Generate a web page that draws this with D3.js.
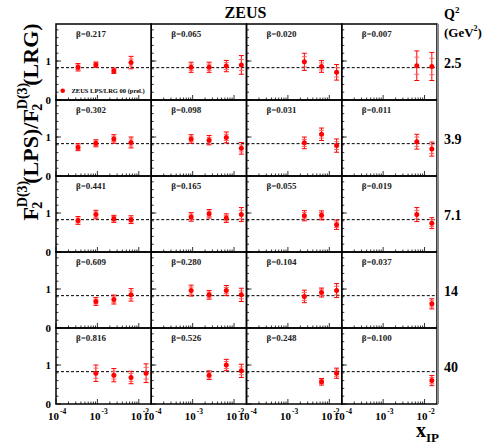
<!DOCTYPE html>
<html>
<head>
<meta charset="utf-8">
<script src="https://cdn.jsdelivr.net/npm/d3@7"></script>
<style>
  body { margin: 0; background: #fff; }
  text { font-family: "Liberation Serif", "Times New Roman", serif; font-weight: bold; }
</style>
</head>
<body>
<script>
// values
const q2Labels = ["2.5", "3.9", "7.1", "14", "40"];
const betaLabels = [
  ["0.217", "0.065", "0.020", "0.007"],
  ["0.302", "0.098", "0.031", "0.011"],
  ["0.441", "0.165", "0.055", "0.019"],
  ["0.609", "0.280", "0.104", "0.037"],
  ["0.816", "0.526", "0.248", "0.100"]
];
const xipBins = [0.00034, 0.00092, 0.0025, 0.0065, 0.015];
const xTicks = [1e-4, 1e-3, 1e-2];
const xTickExp = ["-4", "-3", "-2"];
const yTicks = [0, 1];
const meanRatio = 0.83;

const ratio = [
  [[0.84, 0.905, 0.75, 0.96, null], [null, 0.84, 0.84, 0.87, 0.90], [null, null, 0.98, 0.86, 0.71], [null, null, null, 0.88, 0.86]],
  [[0.74, 0.84, 0.95, 0.86, null], [null, 0.95, 0.92, 0.99, 0.71], [null, null, 0.85, 1.07, 0.78], [null, null, null, 0.88, 0.69]],
  [[0.81, 0.96, 0.85, 0.83, null], [null, 0.90, 0.98, 0.87, 0.96], [null, null, 0.93, 0.94, 0.70], [null, null, null, 0.96, 0.74]],
  [[null, 0.68, 0.73, 0.85, null], [null, 0.96, 0.85, 0.96, 0.85], [null, null, 0.81, 0.91, 0.96], [null, null, null, null, 0.62]],
  [[null, 0.79, 0.74, 0.68, 0.79], [null, null, 0.74, 1.00, 0.85], [null, null, null, 0.57, 0.79], [null, null, null, null, 0.60]]
];
const totErr = [
  [[0.095, 0.07, 0.07, 0.16, null], [null, 0.13, 0.13, 0.145, 0.24], [null, null, 0.22, 0.15, 0.20], [null, null, null, 0.38, 0.36]],
  [[0.09, 0.09, 0.11, 0.14, null], [null, 0.11, 0.12, 0.14, 0.15], [null, null, 0.15, 0.16, 0.17], [null, null, null, 0.19, 0.18]],
  [[0.10, 0.11, 0.09, 0.10, null], [null, 0.11, 0.11, 0.11, 0.18], [null, null, 0.13, 0.115, 0.12], [null, null, null, 0.18, 0.14]],
  [[null, 0.10, 0.115, 0.16, null], [null, 0.14, 0.11, 0.13, 0.17], [null, null, 0.16, 0.115, 0.18], [null, null, null, null, 0.13]],
  [[null, 0.21, 0.17, 0.16, 0.24], [null, null, 0.11, 0.145, 0.17], [null, null, null, 0.085, 0.13], [null, null, null, null, 0.13]]
];
const statErr = [
  [[0.06, 0.05, 0.05, 0.09, null], [null, 0.08, 0.08, 0.09, 0.14], [null, null, 0.13, 0.09, 0.12], [null, null, null, 0.22, 0.21]],
  [[0.06, 0.06, 0.07, 0.09, null], [null, 0.07, 0.07, 0.08, 0.09], [null, null, 0.09, 0.10, 0.10], [null, null, null, 0.12, 0.11]],
  [[0.06, 0.07, 0.06, 0.06, null], [null, 0.07, 0.07, 0.07, 0.11], [null, null, 0.08, 0.07, 0.07], [null, null, null, 0.11, 0.09]],
  [[null, 0.06, 0.07, 0.10, null], [null, 0.09, 0.07, 0.08, 0.10], [null, null, 0.10, 0.07, 0.11], [null, null, null, null, 0.08]],
  [[null, 0.13, 0.10, 0.10, 0.15], [null, null, 0.07, 0.09, 0.10], [null, null, null, 0.05, 0.08], [null, null, null, null, 0.08]]
];

const gridLeft = 56, gridRight = 437, gridTop = 24, gridBottom = 404;
const nCols = 4, nRows = 5;
const pw = (gridRight - gridLeft) / nCols;
const ph = (gridBottom - gridTop) / nRows;

const svg = d3.select("body").append("svg")
  .attr("width", 483)
  .attr("height", 445);

const x = d3.scaleLog().domain([1e-4, 0.02]).range([0, pw]);
const y = d3.scaleLinear().domain([0, 1.95]).range([ph, 0]);

// log minor ticks 2..9 per decade
const minorX = [];
[1e-4, 1e-3, 1e-2].forEach(dec => {
  for (let k = 2; k <= 9; k++) if (dec * k <= 0.02) minorX.push(dec * k);
});
const minorY = d3.range(0.2, 1.95, 0.2);

for (let r = 0; r < nRows; r++) {
  for (let c = 0; c < nCols; c++) {
    const g = svg.append("g")
      .attr("transform", `translate(${gridLeft + c * pw},${gridTop + r * ph})`);

    // bottom ticks
    g.selectAll(".xminor").data(minorX).enter().append("line")
      .attr("x1", d => x(d)).attr("x2", d => x(d))
      .attr("y1", ph).attr("y2", ph - 2.5)
      .attr("stroke", "#000").attr("stroke-width", 0.8);
    g.selectAll(".xmajor").data(xTicks).enter().append("line")
      .attr("x1", d => x(d)).attr("x2", d => x(d))
      .attr("y1", ph).attr("y2", ph - 5)
      .attr("stroke", "#000").attr("stroke-width", 0.8);

    // left ticks
    g.selectAll(".yminor").data(minorY).enter().append("line")
      .attr("x1", 0).attr("x2", 2.5)
      .attr("y1", d => y(d)).attr("y2", d => y(d))
      .attr("stroke", "#000").attr("stroke-width", 0.8);
    g.selectAll(".ymajor").data(yTicks).enter().append("line")
      .attr("x1", 0).attr("x2", 5)
      .attr("y1", d => y(d)).attr("y2", d => y(d))
      .attr("stroke", "#000").attr("stroke-width", 0.8);

    // mean ratio line
    g.append("line")
      .attr("x1", 0).attr("x2", pw)
      .attr("y1", y(meanRatio)).attr("y2", y(meanRatio))
      .attr("stroke", "#000").attr("stroke-width", 1)
      .attr("stroke-dasharray", "3,2");

    g.append("text")
      .attr("x", 20).attr("y", 13)
      .style("font-size", "9px")
      .attr("fill", "#222")
      .text(`β=${betaLabels[r][c]}`);

    const pts = xipBins.map((xb, i) => ({
      xip: xb, v: ratio[r][c][i], st: statErr[r][c][i], tot: totErr[r][c][i]
    })).filter(d => d.v !== null);

    const pg = g.selectAll(".pt").data(pts).enter().append("g").attr("class", "pt");
    pg.append("line")
      .attr("x1", d => x(d.xip)).attr("x2", d => x(d.xip))
      .attr("y1", d => y(d.v + d.tot)).attr("y2", d => y(d.v - d.tot))
      .attr("stroke", "red").attr("stroke-width", 1);
    [d => d.v + d.tot, d => d.v - d.tot].forEach(f => {
      pg.append("line")
        .attr("x1", d => x(d.xip) - 2.5).attr("x2", d => x(d.xip) + 2.5)
        .attr("y1", d => y(f(d))).attr("y2", d => y(f(d)))
        .attr("stroke", "red").attr("stroke-width", 1);
    });
    [d => d.v + d.st, d => d.v - d.st].forEach(f => {
      pg.append("line")
        .attr("x1", d => x(d.xip) - 2.5).attr("x2", d => x(d.xip) + 2.5)
        .attr("y1", d => y(f(d))).attr("y2", d => y(f(d)))
        .attr("stroke", "#ff6060").attr("stroke-width", 1);
    });
    pg.append("circle")
      .attr("cx", d => x(d.xip)).attr("cy", d => y(d.v))
      .attr("r", 2.5).attr("fill", "red");

    // frame
    g.append("rect")
      .attr("width", pw).attr("height", ph)
      .attr("fill", "none").attr("stroke", "#000").attr("stroke-width", 1.5);

    // x tick labels under bottom row
    if (r === nRows - 1) {
      xTicks.forEach((t, i) => {
        g.append("text")
          .attr("x", x(t) + 3).attr("y", ph + 16)
          .attr("text-anchor", "end")
          .style("font-size", "11px")
          .text("10");
        g.append("text")
          .attr("x", x(t) + 4).attr("y", ph + 10)
          .style("font-size", "7.5px")
          .text(xTickExp[i]);
      });
    }
    // y tick labels on first column
    if (c === 0) {
      yTicks.forEach(t => {
        g.append("text")
          .attr("x", -5).attr("y", y(t) + 4)
          .attr("text-anchor", "end")
          .style("font-size", "11px")
          .text(t);
      });
    }
  }
  svg.append("text")
    .attr("x", 444).attr("y", gridTop + r * ph + 44)
    .style("font-size", "14px")
    .text(q2Labels[r]);
}

// gray right border
svg.append("line")
  .attr("x1", gridRight + 1).attr("x2", gridRight + 1)
  .attr("y1", gridTop).attr("y2", gridBottom)
  .attr("stroke", "#888").attr("stroke-width", 2);

// legend
svg.append("circle").attr("cx", 62.7).attr("cy", 90.7).attr("r", 2.3).attr("fill", "red");
svg.append("text").attr("x", 71.5).attr("y", 93)
  .style("font-size", "6.5px")
  .text("ZEUS LPS/LRG 00 (prel.)");

// title
svg.append("text")
  .attr("x", 245.5).attr("y", 18)
  .attr("text-anchor", "middle")
  .style("font-size", "16px")
  .text("ZEUS");

// Q2 header
svg.append("text").attr("x", 444).attr("y", 19).style("font-size", "14px")
  .text("Q")
  .append("tspan").attr("dy", -6).style("font-size", "9px").text("2");
const gev = svg.append("text").attr("x", 444).attr("y", 37).style("font-size", "13px");
gev.append("tspan").text("(GeV");
gev.append("tspan").attr("dy", -6).style("font-size", "8px").text("2");
gev.append("tspan").attr("dy", 6).text(")");

// x axis title
const xt = svg.append("text").attr("x", 416).attr("y", 437).style("font-size", "20px");
xt.append("tspan").text("x");
xt.append("tspan").attr("dy", 5).style("font-size", "13px").text("IP");

// y axis title
const yt = svg.append("text")
  .attr("transform", "translate(38,122) rotate(-90)")
  .attr("text-anchor", "middle")
  .style("font-size", "22px");
yt.append("tspan").text("F");
yt.append("tspan").attr("dy", -11).style("font-size", "14px").text("D(3)");
yt.append("tspan").attr("dx", -28).attr("dy", 15).style("font-size", "14px").text("2");
yt.append("tspan").attr("dx", 18).attr("dy", -4).text("(LPS)/F");
yt.append("tspan").attr("dy", -11).style("font-size", "14px").text("D(3)");
yt.append("tspan").attr("dx", -28).attr("dy", 15).style("font-size", "14px").text("2");
yt.append("tspan").attr("dx", 18).attr("dy", -4).text("(LRG)");
</script>
</body>
</html>
